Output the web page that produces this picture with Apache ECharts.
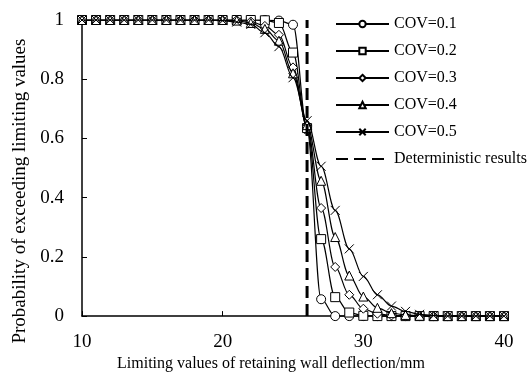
<!DOCTYPE html>
<html>
<head>
<meta charset="utf-8">
<script src="https://cdn.jsdelivr.net/npm/echarts@6/dist/echarts.min.js"></script>
<style>html,body{margin:0;padding:0;background:#fff;}#c{width:531px;height:377px;}</style>
</head>
<body>
<div id="c"></div>
<script>
// Limiting values of retaining wall deflection (mm)
const xValues = [10,11,12,13,14,15,16,17,18,19,20,21,22,23,24,25,26,27,28,29,30,31,32,33,34,35,36,37,38,39,40];
const cov01 = [1,1,1,1,1,1,1,1,1,1,1,1,1,1,0.998,0.984,0.63,0.057,0,0,0,0,0,0,0,0,0,0,0,0,0];
const cov02 = [1,1,1,1,1,1,1,1,1,1,1,1,1,0.999,0.99,0.89,0.635,0.26,0.064,0.012,0.001,0,0,0,0,0,0,0,0,0,0];
const cov03 = [1,1,1,1,1,1,1,1,1,1,1,1,0.995,0.98,0.95,0.84,0.64,0.365,0.166,0.072,0.025,0.008,0.002,0,0,0,0,0,0,0,0];
const cov04 = [1,1,1,1,1,1,1,1,1,1,1,0.998,0.99,0.97,0.93,0.82,0.645,0.457,0.267,0.137,0.066,0.028,0.01,0.004,0.001,0,0,0,0,0,0];
const cov05 = [1,1,1,1,1,1,1,1,1,1,0.998,0.993,0.985,0.957,0.91,0.805,0.66,0.506,0.357,0.227,0.134,0.072,0.034,0.016,0.006,0.002,0,0,0,0,0];
const deterministicX = 26;
const deterministicY = [0, 1];
const seriesNames = ['COV=0.1','COV=0.2','COV=0.3','COV=0.4','COV=0.5','Deterministic results'];
const xTicks = [10, 20, 30, 40];
const yTicks = [0, 0.2, 0.4, 0.6, 0.8, 1];

const font = '"Liberation Serif", "Times New Roman", serif';
const symbols = ['circle', 'rect', 'diamond', 'triangle', 'path://M0,0L10,10M10,0L0,10'];
const data = [cov01, cov02, cov03, cov04, cov05];

const series = data.map((arr, i) => ({
  name: seriesNames[i],
  type: 'line',
  smooth: 0.35,
  smoothMonotone: 'x',
  data: xValues.map((x, j) => [x, arr[j]]),
  symbol: symbols[i],
  symbolSize: 9,
  showAllSymbol: true,
  lineStyle: { color: '#000', width: 1.2 },
  itemStyle: { color: '#fff', borderColor: '#000', borderWidth: 1 },
  z: 2 + i
}));
series.push({
  name: seriesNames[5],
  type: 'line',
  data: deterministicY.map(y => [deterministicX, y]),
  symbol: 'none',
  lineStyle: { color: '#000', width: 3, type: [12, 6] },
  itemStyle: { color: '#000' },
  z: 10
});

const legendData = seriesNames.map((n, i) => i === 5
  ? { name: n, itemStyle: { color: 'rgba(0,0,0,0)', borderWidth: 0, opacity: 0 } }
  : { name: n });

const chart = echarts.init(document.getElementById('c'), null, { renderer: 'canvas' });
chart.setOption({
  animation: false,
  backgroundColor: '#fff',
  textStyle: { fontFamily: font, color: '#000' },
  grid: { left: 82, right: 27, top: 20, bottom: 50, containLabel: false },
  legend: {
    orient: 'vertical',
    left: 330,
    top: 11,
    itemWidth: 53,
    itemHeight: 8,
    itemGap: 11,
    itemTextGap: 7,
    textStyle: { fontFamily: font, fontSize: 16, color: '#000', lineHeight: 16 },
    data: legendData
  },
  xAxis: {
    type: 'value',
    min: xTicks[0],
    max: xTicks[xTicks.length - 1],
    interval: 10,
    name: 'Limiting values of retaining wall deflection/mm',
    nameLocation: 'middle',
    nameGap: 35,
    nameTextStyle: { fontFamily: font, fontSize: 16, color: '#000', padding: [0, 44, 0, 0] },
    axisLine: { lineStyle: { color: '#000', width: 1.5 } },
    axisTick: { inside: true, length: 5, lineStyle: { color: '#000', width: 1 } },
    axisLabel: { fontFamily: font, fontSize: 19, color: '#000', margin: 16 },
    splitLine: { show: false }
  },
  yAxis: {
    type: 'value',
    min: yTicks[0],
    max: yTicks[yTicks.length - 1],
    interval: 0.2,
    name: 'Probability of exceeding limiting values',
    nameLocation: 'middle',
    nameGap: 42,
    nameTextStyle: { fontFamily: font, fontSize: 19, color: '#000', padding: [0, 46, 0, 0] },
    axisLine: { lineStyle: { color: '#000', width: 1.5 } },
    axisTick: { inside: true, length: 5, lineStyle: { color: '#000', width: 1 } },
    axisLabel: { fontFamily: font, fontSize: 19, color: '#000', margin: 18 },
    splitLine: { show: false }
  },
  series: series
});
</script>
</body>
</html>
